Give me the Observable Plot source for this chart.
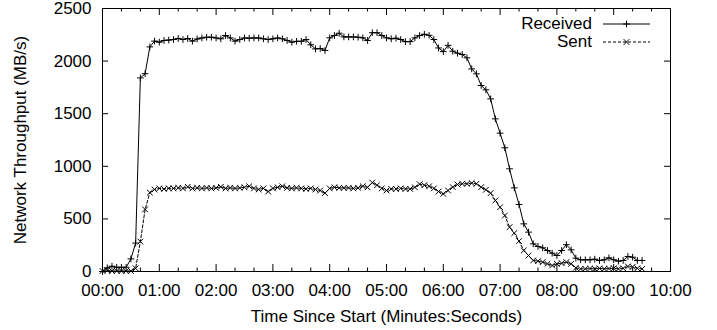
<!DOCTYPE html>
<html><head><meta charset="utf-8">
<script src="https://cdn.jsdelivr.net/npm/d3@7"></script>
<script src="https://cdn.jsdelivr.net/npm/@observablehq/plot@0.6"></script>
<style>
body{margin:0;background:#fff;}
#chart{position:relative;width:717px;height:330px;font-family:"Liberation Sans",Arial,Helvetica,sans-serif;color:#000;}
.legend{position:absolute;top:15px;left:0;width:650px;font-size:17px;}
.row{display:flex;justify-content:flex-end;align-items:center;height:18px;line-height:18px;}
.row svg{margin-left:11px;display:block;}
</style></head><body><div id="chart"></div>
<script>
// time since start, seconds
const seconds = [0,5,10,15,20,25,30,35,40,45,50,55,60,65,70,75,80,85,90,95,100,105,110,115,120,125,130,135,140,145,150,155,160,165,170,175,180,185,190,195,200,205,210,215,220,225,230,235,240,245,250,255,260,265,270,275,280,285,290,295,300,305,310,315,320,325,330,335,340,345,350,355,360,365,370,375,380,385,390,395,400,405,410,415,420,425,430,435,440,445,450,455,460,465,470,475,480,485,490,495,500,505,510,515,520,525,530,535,540,545,550,555,560,565,570];
// MB/s
const received = [0,35,50,40,40,40,120,270,1840,1880,2135,2190,2180,2196,2200,2205,2215,2205,2215,2190,2210,2220,2227,2227,2220,2212,2243,2220,2190,2205,2220,2218,2220,2220,2212,2205,2212,2220,2212,2196,2180,2188,2188,2205,2155,2116,2120,2101,2221,2243,2265,2230,2230,2230,2227,2221,2196,2270,2270,2243,2221,2212,2218,2205,2185,2185,2221,2243,2255,2245,2205,2125,2090,2150,2094,2075,2063,2031,1926,1879,1768,1727,1641,1451,1315,1176,976,795,637,453,374,263,238,225,200,174,152,200,255,206,127,111,111,111,117,105,111,130,111,98,105,143,136,105,105];
const sent = [5,10,5,5,5,5,5,30,285,590,750,780,790,785,790,790,795,790,805,790,795,790,795,790,795,805,790,795,790,795,800,810,790,780,790,760,790,800,810,795,790,795,790,785,790,780,770,745,790,800,795,795,795,790,795,810,800,845,820,790,770,785,785,790,785,785,800,830,820,810,790,760,738,770,802,827,834,834,840,834,802,777,745,675,611,532,422,365,289,200,152,105,98,89,73,57,73,79,89,73,35,25,25,28,25,30,25,28,30,25,30,48,44,30,25];
const seriesNames = ["Received","Sent"];
const xMajorTicks = [0,60,120,180,240,300,360,420,480,540,600];
const xTickLabels = ["00:00","01:00","02:00","03:00","04:00","05:00","06:00","07:00","08:00","09:00","10:00"];
const xMinorTicks = [20,40,80,100,140,160,200,220,260,280,320,340,380,400,440,460,500,520,560,580];
const yTicks = [0,500,1000,1500,2000,2500];
const xLabel = "Time Since Start (Minutes:Seconds)";
const yLabel = "Network Throughput (MB/s)";

const rows = seconds.map((t, i) => ({t, received: received[i], sent: sent[i]}));

const W = 717, H = 330, mt = 8, mb = 59, ml = 102, mr = 47;
const ph = H - mt - mb, pw = W - ml - mr;
const font = '"Liberation Sans",Arial,Helvetica,sans-serif';

const chart = Plot.plot({
  width: W, height: H,
  marginTop: mt, marginBottom: mb, marginLeft: ml, marginRight: mr,
  style: {fontFamily: font, fontSize: "17px", background: "white", color: "black", overflow: "visible"},
  x: {domain: [0, 600]},
  y: {domain: [0, 2500]},
  marks: [
    Plot.axisX(xMajorTicks, {tickSize: 0, tickPadding: 12, tickFormat: d => xTickLabels[xMajorTicks.indexOf(d)], label: null, fontSize: 17}),
    Plot.axisY(yTicks, {tickSize: 0, tickPadding: 11, tickFormat: d => String(d), label: null, fontSize: 17}),
    Plot.tickX(xMajorTicks, {x: d => d, insetTop: ph - 7, stroke: "black"}),
    Plot.tickX(xMajorTicks, {x: d => d, insetBottom: ph - 7, stroke: "black"}),
    Plot.tickX(xMinorTicks, {x: d => d, insetTop: ph - 3.5, stroke: "black"}),
    Plot.tickX(xMinorTicks, {x: d => d, insetBottom: ph - 3.5, stroke: "black"}),
    Plot.tickY(yTicks, {y: d => d, insetRight: pw - 6, stroke: "black"}),
    Plot.tickY(yTicks, {y: d => d, insetLeft: pw - 6, stroke: "black"}),
    Plot.line(rows, {x: "t", y: "sent", stroke: "black", strokeWidth: 1, strokeDasharray: "3,2"}),
    Plot.dot(rows, {x: "t", y: "sent", symbol: d3.symbolTimes, r: 2.7, stroke: "black", strokeWidth: 1}),
    Plot.line(rows, {x: "t", y: "received", stroke: "black", strokeWidth: 1}),
    Plot.dot(rows, {x: "t", y: "received", symbol: d3.symbolPlus, r: 2.3, stroke: "black", strokeWidth: 1}),
    Plot.frame({stroke: "black", strokeWidth: 1}),
    Plot.text([xLabel], {frameAnchor: "bottom", dy: 38, lineAnchor: "top", textAnchor: "middle", fontSize: 17}),
    Plot.text([yLabel], {frameAnchor: "left", rotate: -90, dx: -89, lineAnchor: "top", textAnchor: "middle", fontSize: 17})
  ]
});

const container = document.getElementById("chart");
container.appendChild(chart);

// legend overlay
const legend = document.createElement("div");
legend.className = "legend";
const styles = [
  {name: seriesNames[0], dash: null, symbol: d3.symbolPlus, size: 2.3 * 2.3 * Math.PI},
  {name: seriesNames[1], dash: "3,2", symbol: d3.symbolTimes, size: 2.7 * 2.7 * Math.PI}
];
for (const s of styles) {
  const row = document.createElement("div");
  row.className = "row";
  const span = document.createElement("span");
  span.textContent = s.name;
  row.appendChild(span);
  const svg = d3.create("svg").attr("width", 47).attr("height", 18);
  svg.append("line").attr("x1", 0).attr("x2", 47).attr("y1", 9).attr("y2", 9)
    .attr("stroke", "black").attr("stroke-width", 1).attr("stroke-dasharray", s.dash);
  svg.append("path").attr("transform", "translate(23.5,9)")
    .attr("d", d3.symbol().type(s.symbol).size(s.size)())
    .attr("fill", "none").attr("stroke", "black").attr("stroke-width", 1);
  row.appendChild(svg.node());
  legend.appendChild(row);
}
container.appendChild(legend);
</script>
</body></html>
